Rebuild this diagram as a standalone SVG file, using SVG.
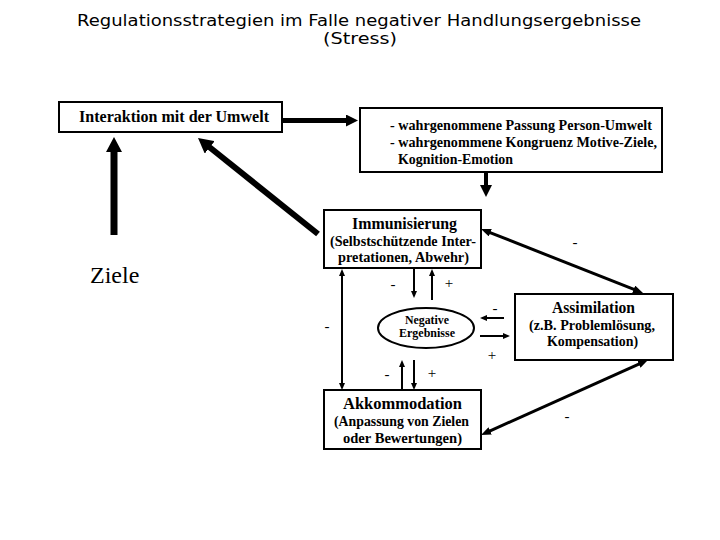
<svg xmlns="http://www.w3.org/2000/svg" width="720" height="540" viewBox="0 0 720 540">
<style>
.box{fill:#fff;stroke:#000;stroke-width:2}
.t{font-family:"Liberation Serif","Times New Roman",serif;font-weight:bold;fill:#000}
.h{font-size:16px}
.s{font-size:15px}
.xs{font-size:11.5px}
.lab{font-family:"Liberation Serif","Times New Roman",serif;font-size:15px;fill:#000;text-anchor:middle}
.title{font-family:"DejaVu Sans",Verdana,sans-serif;font-size:16.5px;fill:#000}
.c{fill:none;stroke:#000}
</style>
<defs>
<marker id="bigA" markerUnits="userSpaceOnUse" markerWidth="15" markerHeight="16" viewBox="0 0 15 16" refX="3" refY="8" orient="auto"><path d="M0,0 L15,8 L0,16 z" fill="#000"/></marker>
<marker id="bigB" markerUnits="userSpaceOnUse" markerWidth="12" markerHeight="12" viewBox="0 0 12 12" refX="2" refY="6" orient="auto"><path d="M0,0 L12,6 L0,12 z" fill="#000"/></marker>
<marker id="mid" markerUnits="userSpaceOnUse" markerWidth="10" markerHeight="8" viewBox="0 0 10 8" refX="3" refY="4" orient="auto-start-reverse"><path d="M0,0 L10,4 L0,8 z" fill="#000"/></marker>
<marker id="sm" markerUnits="userSpaceOnUse" markerWidth="7" markerHeight="6" viewBox="0 0 7 6" refX="2" refY="3" orient="auto-start-reverse"><path d="M0,0 L7,3 L0,6 z" fill="#000"/></marker>
</defs>
<rect width="720" height="540" fill="#fff"/>
<g id="title">
<text class="title" x="77" y="26" textLength="564" lengthAdjust="spacingAndGlyphs">Regulationsstrategien im Falle negativer Handlungsergebnisse</text>
<text class="title" x="323" y="44" textLength="74" lengthAdjust="spacingAndGlyphs">(Stress)</text>
</g>
<g id="connectors">
<line class="c" x1="282" y1="120.5" x2="348" y2="120.5" stroke-width="5" marker-end="url(#bigB)"/>
<line class="c" x1="114" y1="235" x2="114" y2="149" stroke-width="7" marker-end="url(#bigA)"/>
<line class="c" x1="318" y1="234" x2="207.4" y2="145.5" stroke-width="6" marker-end="url(#bigA)"/>
<line class="c" x1="486" y1="172" x2="486" y2="187" stroke-width="4" marker-end="url(#bigB)"/>
<line class="c" x1="487.5" y1="231.6" x2="636.5" y2="290.4" stroke-width="3" marker-start="url(#mid)" marker-end="url(#mid)"/>
<line class="c" x1="641.6" y1="362.9" x2="487.4" y2="432.1" stroke-width="3" marker-start="url(#mid)" marker-end="url(#mid)"/>
<line class="c" x1="342" y1="274" x2="342" y2="385" stroke-width="2" marker-start="url(#sm)" marker-end="url(#sm)"/>
<line class="c" x1="414" y1="269" x2="414" y2="293" stroke-width="2" marker-end="url(#sm)"/>
<line class="c" x1="432" y1="300" x2="432" y2="274" stroke-width="2" marker-end="url(#sm)"/>
<line class="c" x1="504" y1="318" x2="485" y2="318" stroke-width="2" marker-end="url(#sm)"/>
<line class="c" x1="480" y1="336" x2="505" y2="336" stroke-width="2" marker-end="url(#sm)"/>
<line class="c" x1="402" y1="390" x2="402" y2="365" stroke-width="2" marker-end="url(#sm)"/>
<line class="c" x1="414" y1="360" x2="414" y2="385" stroke-width="2" marker-end="url(#sm)"/>
<text class="lab" x="575" y="247">-</text>
<text class="lab" x="393" y="289">-</text>
<text class="lab" x="449" y="288">+</text>
<text class="lab" x="327" y="331">-</text>
<text class="lab" x="495" y="313">-</text>
<text class="lab" x="492" y="360">+</text>
<text class="lab" x="387" y="379">-</text>
<text class="lab" x="432" y="378">+</text>
<text class="lab" x="567" y="421">-</text>
</g>
<g id="interaktion">
<rect class="box" x="59" y="102" width="223" height="30"/>
<text class="t h" x="79" y="122" textLength="190" lengthAdjust="spacingAndGlyphs">Interaktion mit der Umwelt</text>
</g>
<g id="wahrnehmung">
<rect class="box" x="360" y="108" width="302" height="64"/>
<text class="t s" x="390" y="130" textLength="262" lengthAdjust="spacingAndGlyphs">- wahrgenommene Passung Person-Umwelt</text>
<text class="t s" x="390" y="147" textLength="267" lengthAdjust="spacingAndGlyphs">- wahrgenommene Kongruenz Motive-Ziele,</text>
<text class="t s" x="398" y="164" textLength="115" lengthAdjust="spacingAndGlyphs">Kognition-Emotion</text>
</g>
<g id="ziele">
<text x="90" y="283" font-family="Liberation Serif, Times New Roman, serif" font-size="24">Ziele</text>
</g>
<g id="immunisierung">
<rect class="box" x="324" y="210" width="157" height="58"/>
<text class="t h" x="352" y="229" textLength="105" lengthAdjust="spacingAndGlyphs">Immunisierung</text>
<text class="t s" x="330" y="246" textLength="146" lengthAdjust="spacingAndGlyphs">(Selbstschützende Inter-</text>
<text class="t s" x="338" y="262" textLength="131" lengthAdjust="spacingAndGlyphs">pretationen, Abwehr)</text>
</g>
<g id="negative">
<ellipse cx="426" cy="328" rx="48" ry="20" fill="#fff" stroke="#000" stroke-width="2"/>
<text class="t xs" x="405" y="324" textLength="44" lengthAdjust="spacingAndGlyphs">Negative</text>
<text class="t xs" x="399" y="337" textLength="56" lengthAdjust="spacingAndGlyphs">Ergebnisse</text>
</g>
<g id="assimilation">
<rect class="box" x="515" y="294" width="158" height="66"/>
<text class="t h" x="552" y="313" textLength="83" lengthAdjust="spacingAndGlyphs">Assimilation</text>
<text class="t s" x="529" y="330" textLength="126" lengthAdjust="spacingAndGlyphs">(z.B. Problemlösung,</text>
<text class="t s" x="547" y="346" textLength="91" lengthAdjust="spacingAndGlyphs">Kompensation)</text>
</g>
<g id="akkommodation">
<rect class="box" x="324" y="390" width="157" height="59"/>
<text class="t h" x="343" y="409" textLength="119" lengthAdjust="spacingAndGlyphs">Akkommodation</text>
<text class="t s" x="334" y="426" textLength="135" lengthAdjust="spacingAndGlyphs">(Anpassung von Zielen</text>
<text class="t s" x="343" y="443" textLength="119" lengthAdjust="spacingAndGlyphs">oder Bewertungen)</text>
</g>
</svg>
